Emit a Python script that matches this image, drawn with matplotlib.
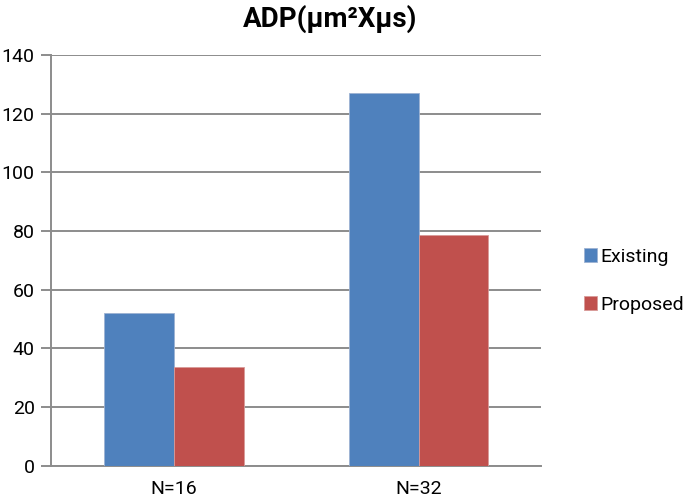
import matplotlib.pyplot as plt
import numpy as np

# data
categories = ['N=16', 'N=32']
existing = [52, 127]
proposed = [33.5, 78.5]
series_names = ['Existing', 'Proposed']
yticks = [0, 20, 40, 60, 80, 100, 120, 140]

blue = '#4F81BD'
red = '#C0504D'
grid_grey = '#8C8C8C'

plt.rcParams['font.family'] = ['Roboto', 'DejaVu Sans']

fig = plt.figure(figsize=(6.85, 5.03), dpi=100)
ax = fig.add_axes([0.075, 0.074, 0.715, 0.817])

x = np.arange(len(categories))
width = 0.285
ax.bar(x - width / 2, existing, width, color=blue, label=series_names[0],
       edgecolor='#9DB3D3', linewidth=0.6, zorder=3)
ax.bar(x + width / 2, proposed, width, color=red, label=series_names[1],
       edgecolor='#D89A98', linewidth=0.6, zorder=3)

ax.set_xlim(-0.5, 1.5)
ax.set_ylim(0, 140)
ax.set_yticks(yticks)
ax.set_xticks(x)
ax.set_xticklabels(categories)

# gridlines and spines
ax.yaxis.grid(True, color=grid_grey, linewidth=1.4, zorder=0)
for s in ['top', 'right']:
    ax.spines[s].set_visible(False)
ax.spines['left'].set_color(grid_grey)
ax.spines['left'].set_linewidth(1.4)
ax.spines['bottom'].set_color(grid_grey)
ax.spines['bottom'].set_linewidth(1.4)
ax.tick_params(axis='y', length=7, width=1.4, color=grid_grey, labelsize=14, pad=5)
ax.tick_params(axis='x', length=0, labelsize=14, pad=10)

fig.text(0.482, 0.962, 'ADP(μm²Xμs)', fontsize=20, fontweight='bold',
         ha='center', va='center')

leg = fig.legend(loc='center left', bbox_to_anchor=(0.852, 0.442), frameon=False,
                 fontsize=14, handlelength=0.7, handleheight=0.7,
                 handletextpad=0.15, labelspacing=1.55, borderaxespad=0,
                 borderpad=0)

fig.savefig('out.png', dpi=100)
